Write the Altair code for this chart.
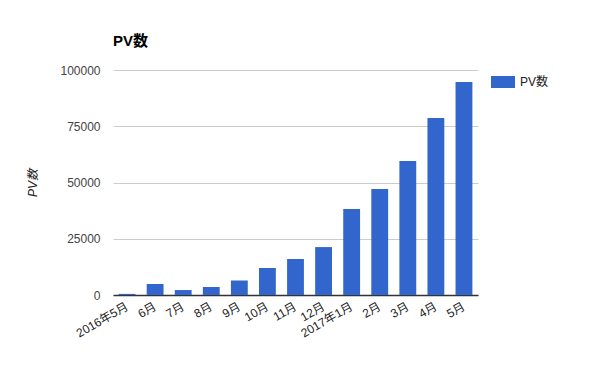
import altair as alt
import pandas as pd

months = ["2016年5月", "6月", "7月", "8月", "9月", "10月", "11月", "12月",
          "2017年1月", "2月", "3月", "4月", "5月"]
pv = [500, 4900, 2200, 3550, 6400, 12000, 16000, 21300, 38200, 47100, 59600, 78700, 94700]
series = "PV数"

df = pd.DataFrame({"month": months, "pv": pv, "series": [series] * len(months)})

FONT = "Liberation Sans, Arial, Noto Sans CJK JP"

chart = alt.Chart(df).mark_bar().encode(
    x=alt.X("month:N", sort=months, title=None,
            scale=alt.Scale(paddingInner=0.4, paddingOuter=0.2),
            axis=alt.Axis(labelAngle=-30, labelAlign="right", labelBaseline="middle",
                          labelPadding=10, ticks=False, domainColor="#333333",
                          domainWidth=1.5, labelOverlap=False, labelFontSize=12,
                          labelColor="#222222", labelFont=FONT, grid=False)),
    y=alt.Y("pv:Q", title="PV数",
            scale=alt.Scale(domain=[0, 100000], nice=False),
            axis=alt.Axis(values=[0, 25000, 50000, 75000, 100000], format="d",
                          grid=True, gridColor="#cccccc", domain=False, ticks=False,
                          labelPadding=13, labelFontSize=12, labelColor="#444444",
                          labelFont=FONT, titleFont=FONT, titleFontSize=12,
                          titleFontStyle="italic", titleFontWeight="normal",
                          titleColor="#222222", titleX=-81, titleY=112.5,
                          titleAngle=-90, titleAlign="center", titleBaseline="middle")),
    color=alt.Color("series:N", scale=alt.Scale(range=["#3366cc"]),
                    legend=alt.Legend(title=None, orient="none", legendX=378, legendY=0,
                                      padding=0, symbolType="M-1,-0.5L1,-0.5L1,0.5L-1,0.5Z",
                                      symbolSize=576, symbolStrokeWidth=0,
                                      symbolOpacity=1, labelFontSize=12,
                                      labelColor="#222222", labelFont=FONT,
                                      labelOffset=5)),
).properties(
    width=365, height=225,
    title=alt.TitleParams("PV数", anchor="start", frame="group", fontSize=15,
                          fontWeight="bold", font=FONT, color="#000000", offset=15),
    autosize=alt.AutoSizeParams(type="none"),
    padding={"left": 105, "top": 62, "right": 100, "bottom": 60},
).configure_view(stroke=None)

chart.save("out.html", embed_options={"renderer": "svg", "actions": False})
